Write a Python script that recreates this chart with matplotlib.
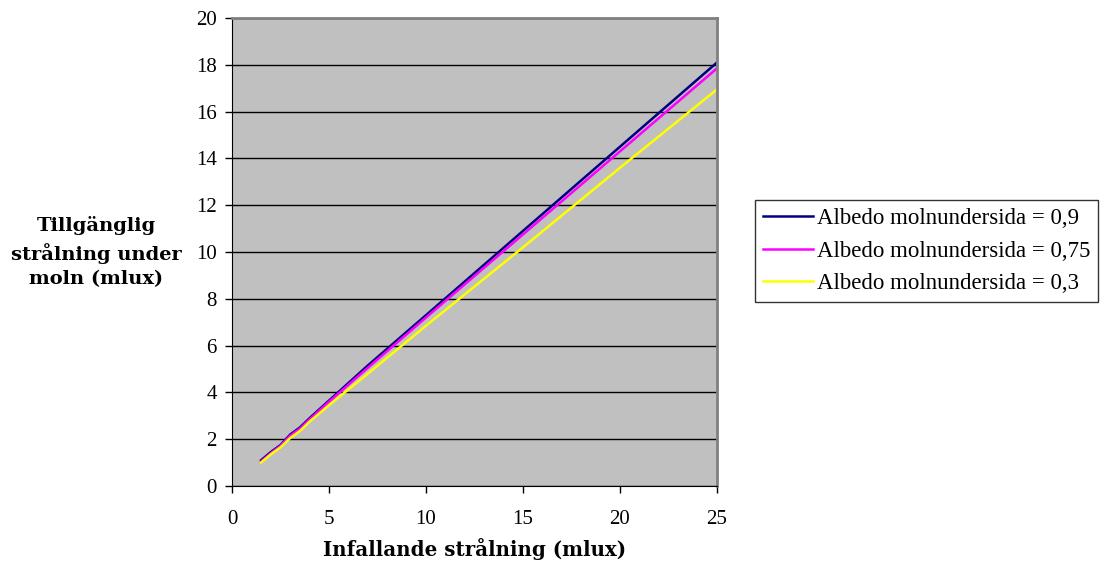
import numpy as np
import matplotlib.pyplot as plt

# infallande strålning (mlux)
x = [1.5, 2, 2.5, 3, 3.5, 4, 5, 7, 10, 15, 20, 25]
# tillgänglig strålning under moln för olika albedo
alb_09 = [1.1, 1.45, 1.75, 2.2, 2.5, 2.9, 3.65, 5.15, 7.3, 10.9, 14.5, 18.1]
alb_075 = [1.05, 1.4, 1.72, 2.15, 2.45, 2.85, 3.6, 5.05, 7.2, 10.75, 14.3, 17.85]
alb_03 = [1.0, 1.35, 1.65, 2.05, 2.35, 2.75, 3.45, 4.8, 6.85, 10.2, 13.6, 16.95]
labels = ['Albedo molnundersida = 0,9', 'Albedo molnundersida = 0,75',
          'Albedo molnundersida = 0,3']

plt.rcParams['font.family'] = 'Liberation Serif'

fig = plt.figure(figsize=(11.02, 5.7), dpi=100)
ax = fig.add_axes([232/1102, 1-486/570, 485/1102, 468/570])
ax.set_facecolor('#c0c0c0')

ax.plot(x, alb_09, color='#000080', lw=1.8, label=labels[0])
ax.plot(x, alb_075, color='#ff00ff', lw=1.8, label=labels[1])
ax.plot(x, alb_03, color='#ffff00', lw=1.8, label=labels[2])

ax.set_xlim(0, 25)
ax.set_ylim(0, 20)
ax.set_xticks(np.arange(0, 26, 5))
ax.set_yticks(np.arange(0, 21, 2))
ax.yaxis.grid(True, color='black', lw=1)
ax.set_axisbelow(True)
ax.tick_params(labelsize=15, direction='out', length=5, width=1)
ax.tick_params(axis='x', pad=12)
ax.tick_params(axis='y', pad=6)

for s in ['top', 'right']:
    ax.spines[s].set_color('#808080')
    ax.spines[s].set_linewidth(2)
ax.spines['left'].set_color('black')
ax.spines['bottom'].set_color('black')

ax.set_xlabel('Infallande strålning (mlux)', family='DejaVu Serif',
              fontweight='bold', fontsize=14.3, labelpad=7)
fig.text(96/1102, 1-252/570, 'Tillgänglig\nstrålning under\nmoln (mlux)',
         family='DejaVu Serif', fontweight='bold', fontsize=14,
         ha='center', va='center', linespacing=1.45)

leg = ax.legend(loc='center left', bbox_to_anchor=(755/1102, 1-251/570),
                bbox_transform=fig.transFigure, fontsize=16.5, frameon=True,
                fancybox=False, edgecolor='black', borderpad=0.35,
                handlelength=2.2, handletextpad=0.15, labelspacing=0.5,
                borderaxespad=0)
leg.get_frame().set_linewidth(1)

fig.savefig('out.png', dpi=100)
